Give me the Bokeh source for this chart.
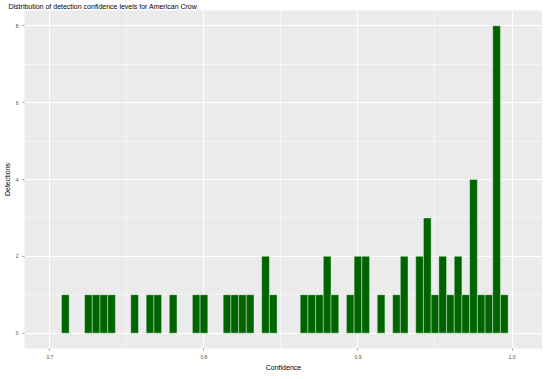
from bokeh.plotting import figure
from bokeh.embed import file_html
from bokeh.resources import INLINE
from bokeh.models import FixedTicker, NumeralTickFormatter, Range1d

title_text = "Distribution of detection confidence levels for American Crow"
x_label = "Confidence"
y_label = "Detections"

# histogram bin centres (bin width 0.005) and counts
bin_centers = [0.710, 0.725, 0.730, 0.735, 0.740, 0.755, 0.765, 0.770, 0.780,
               0.795, 0.800, 0.815, 0.820, 0.825, 0.830, 0.840, 0.845,
               0.865, 0.870, 0.875, 0.880, 0.885, 0.895, 0.900, 0.905,
               0.915, 0.925, 0.930, 0.940, 0.945, 0.950, 0.955, 0.960,
               0.965, 0.970, 0.975, 0.980, 0.985, 0.990, 0.995]
counts = [1, 1, 1, 1, 1, 1, 1, 1, 1,
          1, 1, 1, 1, 1, 1, 2, 1,
          1, 1, 1, 2, 1, 1, 2, 2,
          1, 1, 2, 2, 3, 1, 2, 1,
          2, 1, 4, 1, 1, 8, 1]
bin_width = 0.005

x_ticks = [0.7, 0.8, 0.9, 1.0]
x_minor = [0.75, 0.85, 0.95]
y_ticks = [0, 2, 4, 6, 8]
y_minor = [1, 3, 5, 7]

FONT = "Liberation Sans"

p = figure(frame_width=518, frame_height=338, output_backend="svg", toolbar_location=None,
           x_range=Range1d(0.6835, 1.0198), y_range=Range1d(-0.4, 8.4),
           min_border_left=0, min_border_right=0, min_border_top=0, min_border_bottom=0)

p.vbar(x=bin_centers, top=counts, width=bin_width, bottom=0,
       fill_color="#006400", line_color="white", line_width=0.4)

p.title.text = title_text
p.title.text_font = FONT
p.title.text_font_size = "7px"
p.title.text_font_style = "normal"
p.title.text_color = "black"
p.title.align = "left"
p.title.offset = -16
p.title.standoff = 1

p.background_fill_color = "#EBEBEB"
p.border_fill_color = "white"
p.outline_line_color = None

for ax in (p.xaxis[0], p.yaxis[0]):
    ax.axis_line_color = None
    ax.major_tick_line_color = "#333333"
    ax.major_tick_line_width = 0.5
    ax.major_tick_out = 2
    ax.major_tick_in = 0
    ax.minor_tick_line_color = None
    ax.major_label_text_font = FONT
    ax.major_label_text_font_size = "5px"
    ax.major_label_text_color = "#4D4D4D"
    ax.major_label_standoff = 2
    ax.axis_label_text_font = FONT
    ax.axis_label_text_font_size = "7px"
    ax.axis_label_text_font_style = "normal"
    ax.axis_label_text_color = "black"
    ax.axis_label_standoff = 2

p.xaxis.ticker = FixedTicker(ticks=x_ticks, minor_ticks=x_minor)
p.xaxis.formatter = NumeralTickFormatter(format="0.0")
p.yaxis.ticker = FixedTicker(ticks=y_ticks, minor_ticks=y_minor)
p.xaxis.axis_label = x_label
p.yaxis.axis_label = y_label

p.grid.grid_line_color = "white"
p.grid.grid_line_width = 1
p.grid.minor_grid_line_color = "white"
p.grid.minor_grid_line_width = 0.5

open("out.html", "w").write(file_html(p, INLINE))
